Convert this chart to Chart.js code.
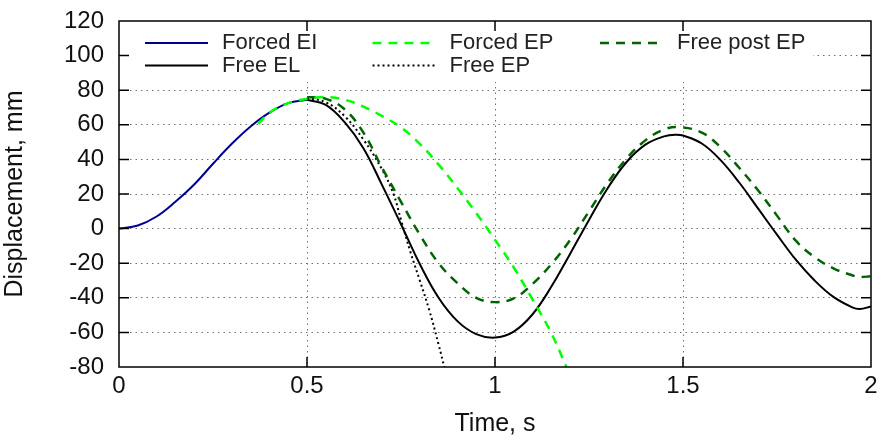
<!DOCTYPE html>
<html>
<head>
<meta charset="utf-8">
<script src="https://cdn.jsdelivr.net/npm/chart.js@4/dist/chart.umd.min.js"></script>
<style>
html, body { margin: 0; padding: 0; background: #fff; }
#wrap { width: 884px; height: 441px; }
</style>
</head>
<body>
<div id="wrap"><canvas id="dispChart" width="884" height="441"></canvas></div>
<script>
// values: time in s, displacement in mm
const tForcedEI = [0, 0.05, 0.1, 0.15, 0.2, 0.25, 0.3, 0.35, 0.4, 0.45, 0.5];
const yForcedEI = [0, 1.8, 7, 15.5, 25.5, 37.5, 49, 59, 67, 72.5, 74.5];

const tFreeEL = [0.5, 0.55, 0.6, 0.65, 0.7, 0.75, 0.8, 0.85, 0.9, 0.95, 1.0, 1.05, 1.1, 1.15, 1.2, 1.25, 1.3,
    1.35, 1.4, 1.45, 1.48, 1.5, 1.55, 1.6, 1.65, 1.7, 1.75, 1.8, 1.85, 1.9, 1.95, 1.97, 2.0];
const yFreeEL = [74.5, 71.5, 61.5, 46.5, 25, 2.5, -20.5, -40, -53.5, -61, -63, -59.5, -49.5, -33.5, -14.5, 5, 23.5,
    38.5, 48.5, 53.3, 54.3, 53.8, 49.2, 39.6, 26.5, 11.5, -3.5, -18, -30, -39.5, -45.5, -46.5, -45];

const tForcedEP = [0.37, 0.4, 0.45, 0.5, 0.55, 0.6, 0.65, 0.7, 0.75, 0.8, 0.85, 0.9, 0.95, 1.0, 1.05, 1.1, 1.15, 1.19];
const yForcedEP = [60.5, 67, 72.5, 75, 76, 74.5, 70.5, 65, 58.5, 49, 37, 23.5, 9, -6.5, -22.5, -41, -60.5, -80];

const tFreeEP = [0.5, 0.55, 0.6, 0.65, 0.7, 0.73, 0.75, 0.775, 0.8, 0.825, 0.85, 0.865];
const yFreeEP = [75.5, 73, 65, 51.5, 34, 20, 5, -13.5, -30, -47, -67, -80];

const tFreePostEP = [0.5, 0.55, 0.6, 0.65, 0.7, 0.75, 0.8, 0.85, 0.9, 0.95, 1.0, 1.05, 1.1, 1.15, 1.2, 1.25, 1.3,
    1.35, 1.4, 1.45, 1.49, 1.55, 1.6, 1.65, 1.7, 1.75, 1.8, 1.85, 1.9, 1.95, 1.97, 2.0];
const yFreePostEP = [76, 75, 69, 55.5, 35, 15.5, -3.5, -20, -31.5, -40, -42.5, -40.3, -32, -20.5, -6.5, 10, 26.5,
    40.5, 51, 57.3, 58.7, 55.5, 47, 35, 22, 7.5, -7, -16.5, -23, -27, -28, -27.5];

const xTicks = [0, 0.5, 1, 1.5, 2];
const xTickLabels = ["0", "0.5", "1", "1.5", "2"];
const yTicks = [-80, -60, -40, -20, 0, 20, 40, 60, 80, 100, 120];
const yTickLabels = ["-80", "-60", "-40", "-20", "0", "20", "40", "60", "80", "100", "120"];

const FONT = "'Liberation Sans', Arial, sans-serif";

const pts = (t, y) => t.map((v, i) => ({ x: v, y: y[i] }));

// grid lines on the frame itself are not drawn
const gridColor = (min, max) => (ctx) =>
    (ctx.tick && (ctx.tick.value === min || ctx.tick.value === max)) ? "rgba(0,0,0,0)" : "#707070";

// legend box sits inside the plot, 3 columns x 2 rows
const legendBox = {
    id: "legendBox",
    beforeDatasetsDraw(chart) {
        const ctx = chart.ctx;
        const a = chart.chartArea;
        ctx.save();
        ctx.fillStyle = "#fff";
        ctx.fillRect(a.left + 1, a.top + 1, 812 - a.left, 60);
        ctx.font = "22px " + FONT;
        ctx.textBaseline = "middle";
        chart.data.datasets.forEach((ds, i) => {
            const col = Math.floor(i / 2), row = i % 2;
            const x0 = 145 + col * 227.5;
            const y0 = 43 + row * 22.5;
            ctx.strokeStyle = ds.borderColor;
            ctx.lineWidth = ds.borderWidth;
            ctx.setLineDash(ds.borderDash || []);
            ctx.beginPath();
            ctx.moveTo(x0, y0);
            ctx.lineTo(x0 + 63, y0);
            ctx.stroke();
            ctx.setLineDash([]);
            ctx.fillStyle = "#222";
            ctx.fillText(ds.label, x0 + 77, y0);
        });
        ctx.restore();
    }
};

// frame with inward ticks on all four sides
const frame = {
    id: "frame",
    afterDraw(chart) {
        const ctx = chart.ctx;
        const a = chart.chartArea;
        const sx = chart.scales.x, sy = chart.scales.y;
        const len = 10;
        ctx.save();
        ctx.strokeStyle = "#000";
        ctx.lineWidth = 1.5;
        ctx.beginPath();
        xTicks.slice(1, -1).forEach(v => {
            const px = sx.getPixelForValue(v);
            ctx.moveTo(px, a.bottom); ctx.lineTo(px, a.bottom - len);
            ctx.moveTo(px, a.top); ctx.lineTo(px, a.top + len);
        });
        yTicks.slice(1, -1).forEach(v => {
            const py = sy.getPixelForValue(v);
            ctx.moveTo(a.left, py); ctx.lineTo(a.left + len, py);
            ctx.moveTo(a.right, py); ctx.lineTo(a.right - len, py);
        });
        ctx.stroke();
        ctx.strokeRect(a.left, a.top, a.right - a.left, a.bottom - a.top);
        ctx.restore();
    }
};

const common = { pointRadius: 0, fill: false, tension: 0.4 };

new Chart(document.getElementById("dispChart"), {
    type: "line",
    data: {
        datasets: [
            { ...common, label: "Forced EI", data: pts(tForcedEI, yForcedEI), borderColor: "#000090", borderWidth: 2, order: 4 },
            { ...common, label: "Free EL", data: pts(tFreeEL, yFreeEL), borderColor: "#000000", borderWidth: 2, order: 3 },
            { ...common, label: "Forced EP", data: pts(tForcedEP, yForcedEP), borderColor: "#00ff00", borderWidth: 2.5, borderDash: [9, 7], order: 0 },
            { ...common, label: "Free EP", data: pts(tFreeEP, yFreeEP), borderColor: "#000000", borderWidth: 2, borderDash: [2, 3], order: 2 },
            { ...common, label: "Free post EP", data: pts(tFreePostEP, yFreePostEP), borderColor: "#006400", borderWidth: 2.5, borderDash: [9, 7], order: 1 },
        ],
    },
    options: {
        responsive: false,
        animation: false,
        layout: { padding: { left: 0, top: 21, right: 13, bottom: 0 } },
        plugins: { legend: { display: false }, tooltip: { enabled: false } },
        scales: {
            x: {
                type: "linear",
                min: 0,
                max: 2,
                afterFit: (s) => { s.height = 74; },
                afterBuildTicks: (s) => { s.ticks = xTicks.map(v => ({ value: v })); },
                ticks: {
                    autoSkip: false,
                    maxRotation: 0,
                    padding: 5,
                    color: "#111",
                    font: { family: FONT, size: 24 },
                    callback: (v) => xTickLabels[xTicks.indexOf(v)],
                },
                grid: { color: gridColor(0, 2), drawTicks: false, lineWidth: 1 },
                border: { display: false, dash: [1.5, 4] },
                title: { display: true, text: "Time, s", color: "#111", font: { family: FONT, size: 25 }, padding: { top: 0, bottom: 2 } },
            },
            y: {
                min: -80,
                max: 120,
                afterFit: (s) => { s.width = 119; s.paddingTop = 0; s.paddingBottom = 0; },
                afterBuildTicks: (s) => { s.ticks = yTicks.map(v => ({ value: v })); },
                ticks: {
                    padding: 15,
                    color: "#111",
                    font: { family: FONT, size: 24 },
                    callback: (v) => yTickLabels[yTicks.indexOf(v)],
                },
                grid: { color: gridColor(-80, 120), drawTicks: false, lineWidth: 1 },
                border: { display: false, dash: [1.5, 4] },
                title: { display: true, text: "Displacement, mm", color: "#111", font: { family: FONT, size: 25 }, padding: { top: 0, bottom: 8 } },
            },
        },
    },
    plugins: [legendBox, frame],
});
</script>
</body>
</html>
